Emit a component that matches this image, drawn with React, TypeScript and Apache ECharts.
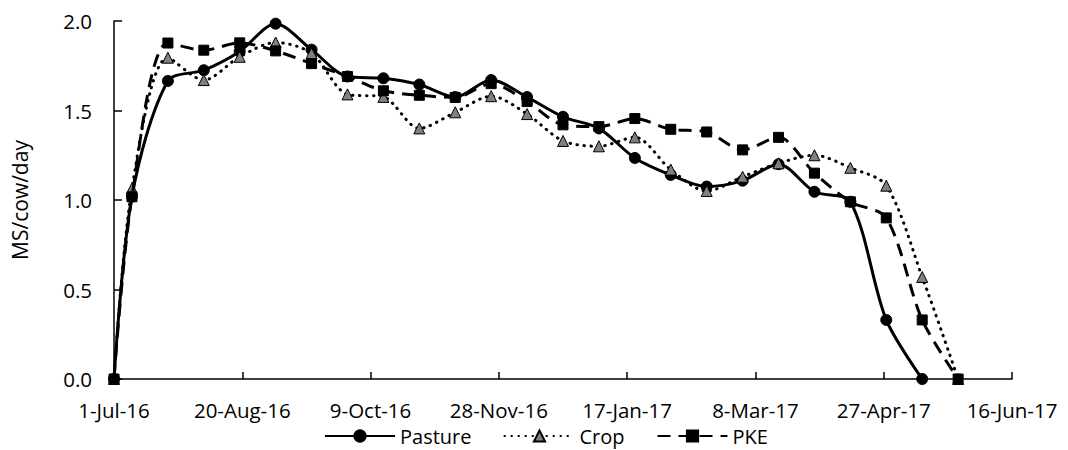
import React, { useEffect, useRef } from "react";
import * as echarts from "echarts";

const dates = [
  "2016-07-01", "2016-07-08", "2016-07-22", "2016-08-05", "2016-08-19",
  "2016-09-02", "2016-09-16", "2016-09-30", "2016-10-14", "2016-10-28",
  "2016-11-11", "2016-11-25", "2016-12-09", "2016-12-23", "2017-01-06",
  "2017-01-20", "2017-02-03", "2017-02-17", "2017-03-03", "2017-03-17",
  "2017-03-31", "2017-04-14", "2017-04-28", "2017-05-12", "2017-05-26",
];

const pasture = [
  0, 1.02, 1.665, 1.725, 1.83, 1.985, 1.84, 1.69, 1.68, 1.645,
  1.575, 1.67, 1.575, 1.465, 1.4, 1.235, 1.14, 1.075, 1.108, 1.2,
  1.046, 0.99, 0.33, 0,
];

const crop = [
  0, 1.065, 1.795, 1.67, 1.8, 1.88, 1.82, 1.59, 1.576, 1.4,
  1.49, 1.58, 1.48, 1.33, 1.3, 1.35, 1.17, 1.05, 1.13, 1.205,
  1.25, 1.18, 1.08, 0.57, 0,
];

const pke = [
  0, 1.018, 1.877, 1.837, 1.878, 1.833, 1.762, 1.69, 1.61, 1.585,
  1.573, 1.65, 1.55, 1.42, 1.41, 1.455, 1.395, 1.38, 1.28, 1.35,
  1.15, 0.99, 0.9, 0.33, 0,
];

const startDate = "2016-07-01";
const xMin = 0;
const xMax = 350;
const xInterval = 50;
const yTicks = [0, 0.5, 1.0, 1.5, 2.0];
const monthNames = ["Jan", "Feb", "Mar", "Apr", "May", "Jun", "Jul", "Aug", "Sep", "Oct", "Nov", "Dec"];

const DAY = 86400000;
const startMs = Date.parse(startDate + "T00:00:00Z");
const dayOf = (s: string) => Math.round((Date.parse(s + "T00:00:00Z") - startMs) / DAY);
const fmtDay = (d: number) => {
  const dt = new Date(startMs + d * DAY);
  return `${dt.getUTCDate()}-${monthNames[dt.getUTCMonth()]}-${String(dt.getUTCFullYear()).slice(2)}`;
};
const toPairs = (vals: number[]) => vals.map((v, i) => [dayOf(dates[i]), v]);

const FONT = "'Open Sans', 'Noto Sans', sans-serif";

export default function App() {
  const ref = useRef<HTMLDivElement>(null);
  useEffect(() => {
    if (!ref.current) return;
    const chart = echarts.init(ref.current, null, { renderer: "svg" });
    chart.setOption({
      animation: false,
      backgroundColor: "#ffffff",
      textStyle: { fontFamily: FONT, color: "#000" },
      grid: { left: 114, right: 56, top: 21, bottom: 71, containLabel: false },
      legend: {
        left: 319,
        top: 420,
        itemWidth: 70,
        itemHeight: 14,
        itemGap: 32,
        textStyle: { fontFamily: FONT, fontSize: 20, lineHeight: 22, color: "#000", padding: [0, 0, 0, 0] },
        data: ["Pasture", "Crop", "PKE"],
      },
      xAxis: {
        type: "value",
        min: xMin,
        max: xMax,
        interval: xInterval,
        axisLine: { show: true, lineStyle: { color: "#000", width: 1.5 } },
        axisTick: { show: true, inside: true, length: 7, lineStyle: { color: "#000", width: 1.5 } },
        splitLine: { show: false },
        axisLabel: {
          margin: 20,
          fontSize: 20.5,
          color: "#000",
          fontFamily: FONT,
          formatter: (v: number) => fmtDay(v),
        },
      },
      yAxis: {
        type: "value",
        min: yTicks[0],
        max: yTicks[yTicks.length - 1],
        interval: 0.5,
        name: "MS/cow/day",
        nameLocation: "middle",
        nameGap: 84,
        nameTextStyle: { fontSize: 21, color: "#000", fontFamily: FONT },
        axisLine: { show: true, lineStyle: { color: "#000", width: 1.5 } },
        axisTick: { show: true, inside: true, length: 8, lineStyle: { color: "#000", width: 1.5 } },
        splitLine: { show: false },
        axisLabel: {
          margin: 22,
          fontSize: 20.5,
          color: "#000",
          fontFamily: FONT,
          formatter: (v: number) => v.toFixed(1),
        },
      },
      series: [
        {
          name: "Pasture",
          type: "line",
          data: toPairs(pasture),
          smooth: 0.3,
          symbol: "circle",
          symbolSize: 11,
          lineStyle: { color: "#000", width: 3, type: "solid" },
          itemStyle: { color: "#000", borderColor: "#000", borderWidth: 1 },
          z: 2,
        },
        {
          name: "Crop",
          type: "line",
          data: toPairs(crop),
          smooth: 0.3,
          symbol: "triangle",
          symbolSize: 11,
          lineStyle: { color: "#000", width: 3, type: [0.5, 6.5], cap: "round" },
          itemStyle: { color: "#808080", borderColor: "#000", borderWidth: 1 },
          z: 3,
        },
        {
          name: "PKE",
          type: "line",
          data: toPairs(pke),
          smooth: 0.3,
          symbol: "rect",
          symbolSize: 10,
          lineStyle: { color: "#000", width: 3, type: [13, 8] },
          itemStyle: { color: "#000", borderColor: "#000", borderWidth: 1 },
          z: 4,
        },
      ],
    });
    return () => chart.dispose();
  }, []);
  return (
    <div
      ref={ref}
      style={{ position: "absolute", left: 0, top: 0, width: 1068, height: 450, background: "#fff" }}
    />
  );
}
